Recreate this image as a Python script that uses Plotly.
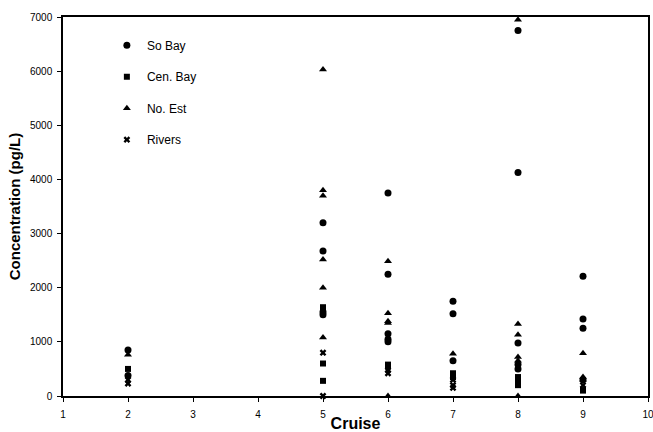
import plotly.graph_objects as go

# Data (pg/L)
so_bay_x = [2, 2, 5, 5, 5, 5, 6, 6, 6, 6, 6, 7, 7, 7, 8, 8, 8, 8, 8, 9, 9, 9, 9]
so_bay_y = [850, 380, 3200, 2680, 1500, 1550, 3750, 2250, 1150, 1050, 1000, 1750, 1520, 650,
            6750, 4130, 980, 580, 500, 2210, 1420, 1250, 300]

cen_bay_x = [2, 5, 5, 5, 5, 6, 6, 7, 7, 7, 8, 8, 8, 8, 9, 9]
cen_bay_y = [500, 1640, 1580, 600, 280, 580, 540, 420, 380, 350, 350, 300, 250, 200, 110, 100]

no_est_x = [2, 5, 5, 5, 5, 5, 5, 6, 6, 6, 6, 6, 7, 8, 8, 8, 8, 8, 8, 9, 9, 9]
no_est_y = [760, 6030, 3800, 3700, 2520, 2000, 1080, 2490, 1530, 1380, 1350, 0, 780,
            6950, 1330, 1130, 720, 650, 0, 790, 350, 300]

rivers_x = [2, 2, 5, 5, 6, 6, 7, 7, 7, 9]
rivers_y = [300, 230, 800, 0, 480, 420, 300, 200, 150, 200]

series = [
    ("So Bay", so_bay_x, so_bay_y, "circle", 7),
    ("Cen. Bay", cen_bay_x, cen_bay_y, "square", 6),
    ("No. Est", no_est_x, no_est_y, "triangle-up", 7),
    ("Rivers", rivers_x, rivers_y, "x", 6),
]

fig = go.Figure()
for name, xs, ys, sym, sz in series:
    fig.add_trace(go.Scatter(
        x=xs, y=ys, mode="markers", name=name, legendgroup=name,
        marker=dict(symbol=sym, size=sz, color="black", line=dict(width=0)),
        cliponaxis=False,
    ))

fig.update_layout(
    width=653, height=432,
    margin=dict(l=63, r=5, t=17, b=36),
    paper_bgcolor="white", plot_bgcolor="white",
    font=dict(family="Arial, Liberation Sans, sans-serif", color="black", size=11),
    showlegend=True,
    legend=dict(x=0.075, y=0.964, xanchor="left", yanchor="top",
                bgcolor="rgba(0,0,0,0)", font=dict(size=12),
                tracegroupgap=12.5, itemwidth=30),
)
fig.update_xaxes(range=[1, 10], dtick=1, tick0=1, showgrid=False, zeroline=False,
                 showline=True, linecolor="black", linewidth=1.5, mirror=True,
                 ticks="outside", ticklen=4, tickcolor="black", automargin=False,
                 tickfont=dict(size=10), ticklabelstandoff=4, ticklabeloverflow="allow",
                 title=dict(text="<b>Cruise</b>", font=dict(size=16), standoff=2))
fig.update_yaxes(range=[0, 7000], dtick=1000, showgrid=False, zeroline=False,
                 showline=True, linecolor="black", linewidth=1.5, mirror=True,
                 ticks="outside", ticklen=4, tickcolor="black", automargin=False,
                 tickfont=dict(size=10), ticklabelstandoff=3, ticklabeloverflow="allow",
                 title=dict(text="<b>Concentration (pg/L)</b>", font=dict(size=15), standoff=6))

fig.write_html("out.html")
